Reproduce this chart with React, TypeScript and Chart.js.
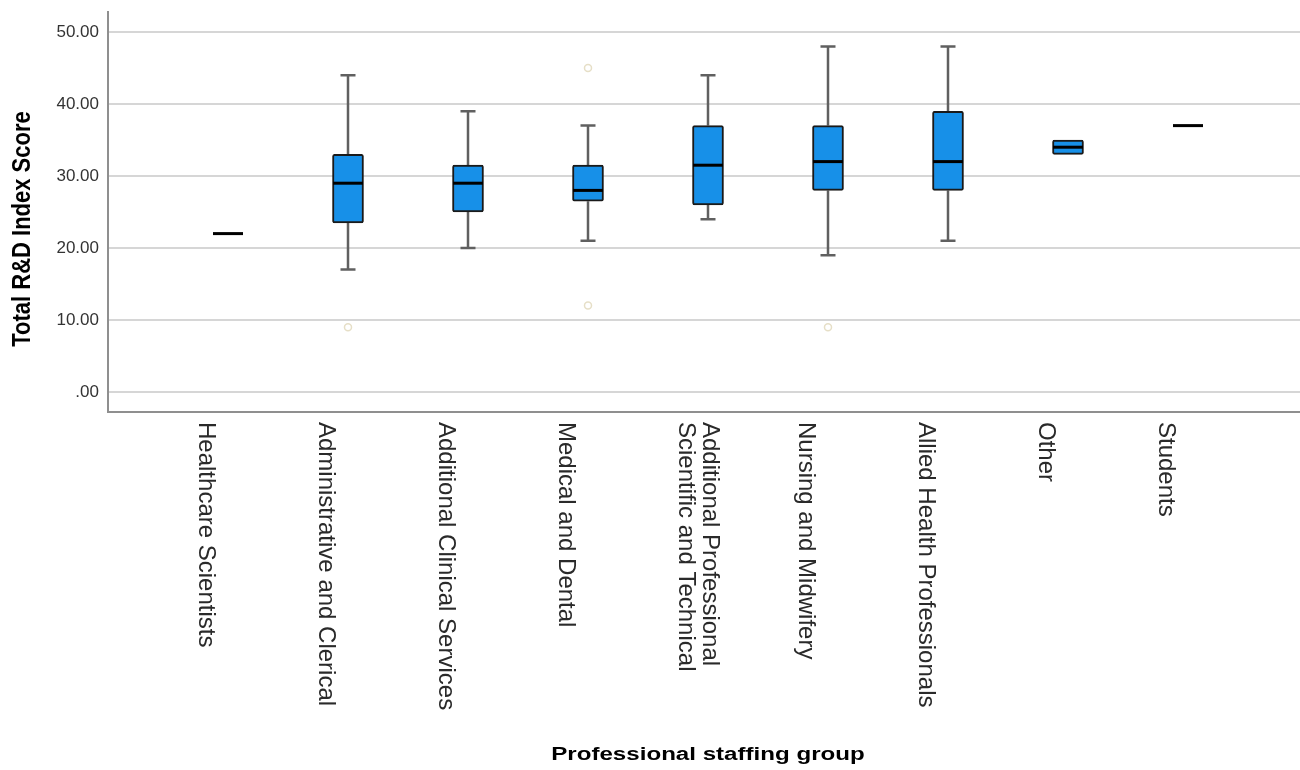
import React, { useEffect, useRef } from "react";
import { Chart, registerables } from "chart.js";

Chart.register(...registerables);

const categories: (string | string[])[] = [
  "Healthcare Scientists",
  "Administrative and Clerical",
  "Additional Clinical Services",
  "Medical and Dental",
  ["Additional Professional", "Scientific and Technical"],
  "Nursing and Midwifery",
  "Allied Health Professionals",
  "Other",
  "Students",
];

const whiskerLow = [22, 17, 20, 21, 24, 19, 21, 33, 37];
const q1 = [22, 23.5, 25, 26.5, 26, 28, 28, 33, 37];
const median = [22, 29, 29, 28, 31.5, 32, 32, 34, 37];
const q3 = [22, 33, 31.5, 31.5, 37, 37, 39, 35, 37];
const whiskerHigh = [22, 44, 39, 37, 44, 48, 48, 35, 37];

const outlierGroup = [1, 3, 3, 5];
const outlierValue = [9, 45, 12, 9];

const yTicks = [0, 10, 20, 30, 40, 50];
const yTickLabels = [".00", "10.00", "20.00", "30.00", "40.00", "50.00"];

const yTitle = "Total R&D Index Score";
const xTitle = "Professional staffing group";

const FONT = "'Liberation Sans', Arial, Helvetica, sans-serif";

export default function App() {
  const ref = useRef<HTMLCanvasElement>(null);

  useEffect(() => {
    document.body.style.margin = "0";
    const canvas = ref.current;
    if (!canvas) return;

    const boxPlugin = {
      id: "boxExtras",
      beforeDatasetsDraw(chart: any) {
        const { ctx, scales } = chart;
        const x = scales.x;
        const y = scales.y;
        ctx.save();
        ctx.strokeStyle = "#606060";
        ctx.lineWidth = 2.5;
        const capHalf = 7.5;
        categories.forEach((_, i) => {
          const cx = x.getPixelForValue(i + 1);
          if (whiskerHigh[i] > q3[i]) {
            const yt = y.getPixelForValue(whiskerHigh[i]);
            const yb = y.getPixelForValue(q3[i]);
            ctx.beginPath();
            ctx.moveTo(cx, yb);
            ctx.lineTo(cx, yt);
            ctx.moveTo(cx - capHalf, yt);
            ctx.lineTo(cx + capHalf, yt);
            ctx.stroke();
          }
          if (whiskerLow[i] < q1[i]) {
            const yt = y.getPixelForValue(q1[i]);
            const yb = y.getPixelForValue(whiskerLow[i]);
            ctx.beginPath();
            ctx.moveTo(cx, yt);
            ctx.lineTo(cx, yb);
            ctx.moveTo(cx - capHalf, yb);
            ctx.lineTo(cx + capHalf, yb);
            ctx.stroke();
          }
        });
        ctx.restore();
      },
      afterDatasetsDraw(chart: any) {
        const { ctx, scales } = chart;
        const x = scales.x;
        const y = scales.y;
        ctx.save();
        ctx.strokeStyle = "#000000";
        ctx.lineWidth = 3;
        categories.forEach((_, i) => {
          const cx = x.getPixelForValue(i + 1);
          const ym = y.getPixelForValue(median[i]);
          ctx.beginPath();
          ctx.moveTo(cx - 15, ym);
          ctx.lineTo(cx + 15, ym);
          ctx.stroke();
        });
        ctx.restore();
      },
      afterDraw(chart: any) {
        const { ctx, scales } = chart;
        const x = scales.x;
        const y = scales.y;
        ctx.save();
        // y tick labels
        ctx.fillStyle = "#333333";
        ctx.font = `17px ${FONT}`;
        ctx.textAlign = "right";
        ctx.textBaseline = "middle";
        yTicks.forEach((v, i) => {
          ctx.fillText(yTickLabels[i], 99, y.getPixelForValue(v));
        });

        // x category labels (rotated clockwise)
        ctx.font = `24px ${FONT}`;
        ctx.fillStyle = "#2a2a2a";
        ctx.textAlign = "left";
        ctx.textBaseline = "alphabetic";
        categories.forEach((label, i) => {
          const cx = x.getPixelForValue(i + 1);
          const lines = Array.isArray(label) ? label : [label];
          const n = lines.length;
          lines.forEach((line, j) => {
            const bx = cx - 29 + (n - 1 - j) * 24;
            ctx.save();
            ctx.translate(bx, 422);
            ctx.rotate(Math.PI / 2);
            ctx.fillText(line, 0, 0);
            ctx.restore();
          });
        });

        // y title
        ctx.fillStyle = "#000000";
        ctx.font = `bold 22px ${FONT}`;
        ctx.textAlign = "center";
        ctx.textBaseline = "middle";
        ctx.save();
        ctx.translate(23, 229);
        ctx.scale(1.15, 1);
        ctx.rotate(-Math.PI / 2);
        ctx.fillText(yTitle, 0, 0);
        ctx.restore();

        // x title
        ctx.font = `bold 18px ${FONT}`;
        ctx.save();
        ctx.translate(708, 755);
        ctx.scale(1.34, 1);
        ctx.fillText(xTitle, 0, 0);
        ctx.restore();

        ctx.restore();
      },
    };

    const boxData = categories
      .map((_, i) => (q3[i] > q1[i] ? { x: i + 1, y: [q1[i], q3[i]] } : null))
      .filter((d) => d !== null);

    const outlierData = outlierGroup.map((g, k) => ({ x: g + 1, y: outlierValue[k] }));

    const chart = new Chart(canvas, {
      type: "bar",
      data: {
        datasets: [
          {
            type: "bar",
            label: "IQR",
            data: boxData as any,
            backgroundColor: "#1790e8",
            borderColor: "#1a1a1a",
            borderWidth: 2,
            borderSkipped: false,
            borderRadius: 2,
            barThickness: 31,
          } as any,
          {
            type: "scatter",
            label: "Outliers",
            data: outlierData,
            pointStyle: "circle",
            pointRadius: 3.5,
            pointBorderWidth: 1.5,
            pointBorderColor: "#e6dfc7",
            pointBackgroundColor: "rgba(0,0,0,0)",
            showLine: false,
          } as any,
        ],
      },
      options: {
        responsive: false,
        animation: false,
        maintainAspectRatio: false,
        layout: { autoPadding: false, padding: { left: 108, top: 12, right: 0, bottom: 358 } },
        plugins: {
          legend: { display: false },
          tooltip: { enabled: false },
          title: { display: false },
        },
        scales: {
          x: {
            type: "linear",
            min: 0,
            max: 1192 / 120,
            offset: false,
            ticks: { display: false },
            grid: { display: false, drawTicks: false },
            border: { display: true, color: "#8f8f8f", width: 2 },
          },
          y: {
            type: "linear",
            min: -2.78,
            max: 52.78,
            afterBuildTicks: (axis: any) => {
              axis.ticks = yTicks.map((v) => ({ value: v }));
            },
            ticks: { display: false },
            grid: { color: "#d6d6d6", lineWidth: 2, drawTicks: false },
            border: { display: true, color: "#8f8f8f", width: 2 },
          },
        },
      },
      plugins: [boxPlugin],
    });

    return () => chart.destroy();
  }, []);

  return (
    <div style={{ width: 1300, height: 770, background: "#ffffff" }}>
      <canvas ref={ref} width={1300} height={770} style={{ display: "block" }} />
    </div>
  );
}
